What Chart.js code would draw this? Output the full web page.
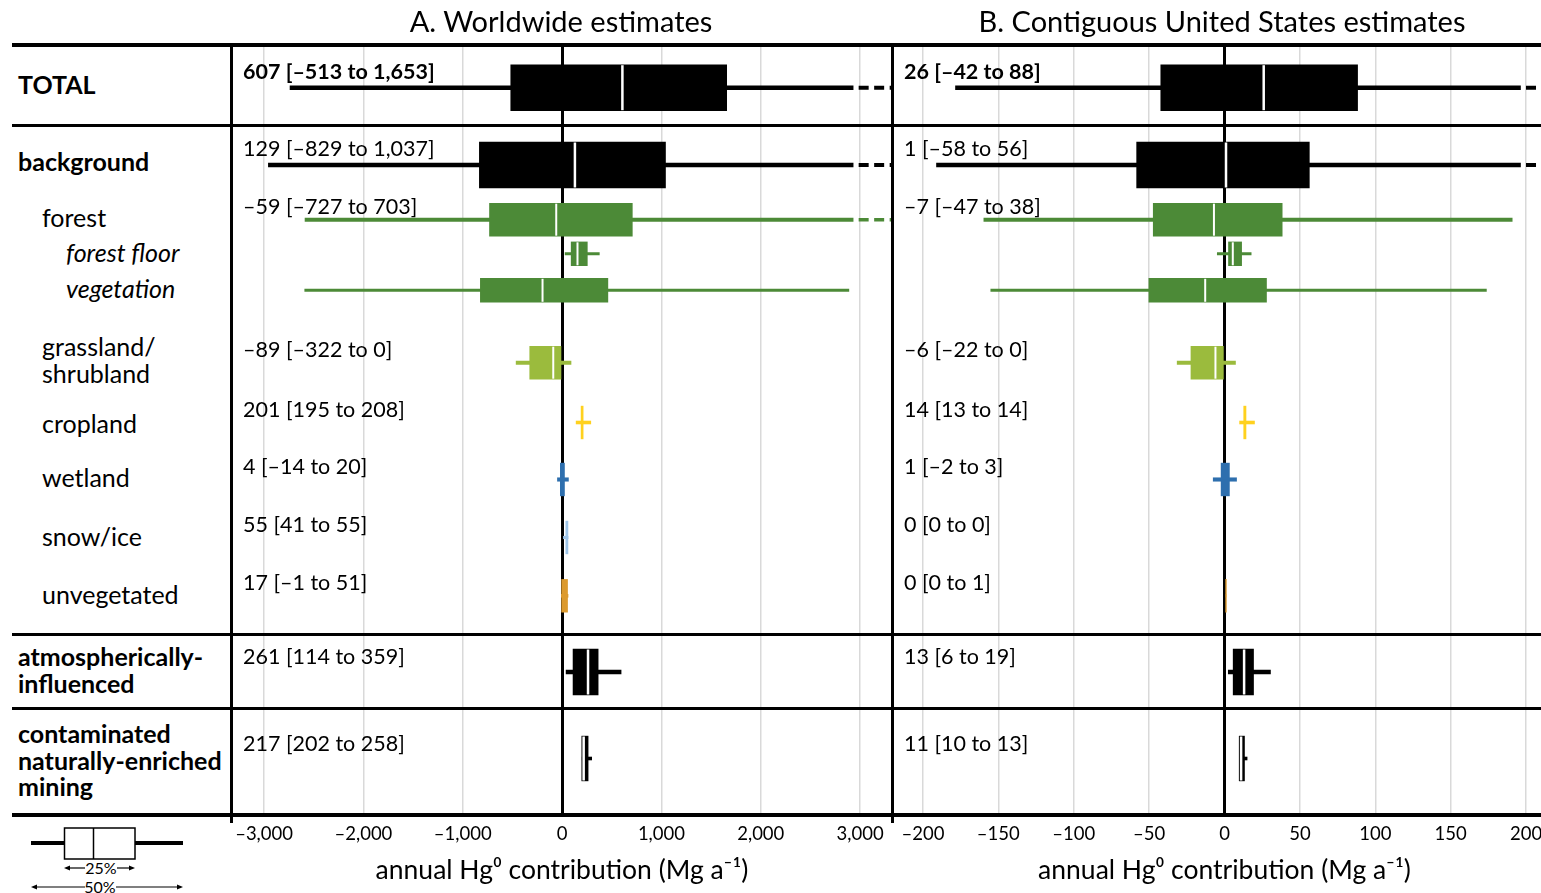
<!DOCTYPE html>
<html>
<head>
<meta charset="utf-8">
<title>Annual Hg0 contribution by land cover</title>
<script src="https://cdn.jsdelivr.net/npm/chart.js@4.4.1/dist/chart.umd.min.js"></script>
<style>
  html, body { margin: 0; padding: 0; background: #fff; overflow: hidden; }
  #fig { position: relative; width: 1541px; height: 893px; overflow: hidden;
         font-family: Lato, "Open Sans", sans-serif; color: #000; }
  .panel { position: absolute; top: 0; height: 893px; }
  #panelA { left: 232px; width: 660px; }
  #panelB { left: 892px; width: 665px; }
  .hd { position: absolute; top: 4px; font-size: 29px; line-height: 34px; white-space: nowrap; transform: translateX(-50%); }
  .rl { position: absolute; font-size: 25px; line-height: 27px; white-space: nowrap; }
  .b { font-weight: bold; }
  .i { font-style: italic; }
  .hl { position: absolute; background: #000; }
  .vl { position: absolute; background: #000; }
  #key { position: absolute; left: 0; top: 818px; }
</style>
</head>
<body>
<div id="fig">
  <div class="panel" id="panelA"><canvas id="chartA" width="660" height="893"></canvas></div>
  <div class="panel" id="panelB"><canvas id="chartB" width="665" height="893"></canvas></div>

  <div class="hd" style="left:561px">A. Worldwide estimates</div>
  <div class="hd" style="left:1222px">B. Contiguous United States estimates</div>

  <!-- table rules -->
  <div class="hl" style="left:12px;top:43px;width:1529px;height:4px"></div>
  <div class="hl" style="left:12px;top:124px;width:1529px;height:3px"></div>
  <div class="hl" style="left:12px;top:633px;width:1529px;height:3px"></div>
  <div class="hl" style="left:12px;top:707px;width:1529px;height:3px"></div>
  <div class="hl" style="left:12px;top:813px;width:1529px;height:4px"></div>
  <div class="vl" style="left:230px;top:43px;width:3px;height:780px"></div>
  <div class="vl" style="left:891px;top:43px;width:3px;height:780px"></div>

  <!-- row names -->
  <div class="rl b" style="left:18px;top:71px">TOTAL</div>
  <div class="rl b" style="left:18px;top:148px">background</div>
  <div class="rl" style="left:42px;top:204px">forest</div>
  <div class="rl i" style="left:66px;top:239px">forest floor</div>
  <div class="rl i" style="left:66px;top:275px">vegetation</div>
  <div class="rl" style="left:42px;top:333px">grassland/<br>shrubland</div>
  <div class="rl" style="left:42px;top:410px">cropland</div>
  <div class="rl" style="left:42px;top:464px">wetland</div>
  <div class="rl" style="left:42px;top:523px">snow/ice</div>
  <div class="rl" style="left:42px;top:581px">unvegetated</div>
  <div class="rl b" style="left:18px;top:643px">atmospherically-<br>influenced</div>
  <div class="rl b" style="left:18px;top:720px;line-height:26.5px">contaminated<br>naturally-enriched<br>mining</div>

  <!-- box key -->
  <svg id="key" width="200" height="75" xmlns="http://www.w3.org/2000/svg">
    <line x1="31" y1="25" x2="64" y2="25" stroke="#000" stroke-width="4"/>
    <line x1="135" y1="25" x2="183" y2="25" stroke="#000" stroke-width="4"/>
    <rect x="64.5" y="10" width="70.5" height="31" fill="#fff" stroke="#000" stroke-width="1.5"/>
    <line x1="93.5" y1="10" x2="93.5" y2="41" stroke="#000" stroke-width="1.5"/>
    <line x1="68" y1="50" x2="85" y2="50" stroke="#000" stroke-width="1.2"/>
    <polygon points="64,50 70,47.5 70,52.5" fill="#000"/>
    <line x1="117" y1="50" x2="131" y2="50" stroke="#000" stroke-width="1.2"/>
    <polygon points="135,50 129,47.5 129,52.5" fill="#000"/>
    <text x="101" y="55.5" font-family="Lato" font-size="16" text-anchor="middle">25%</text>
    <line x1="35" y1="69" x2="85" y2="69" stroke="#000" stroke-width="1.2"/>
    <polygon points="31,69 37,66.5 37,71.5" fill="#000"/>
    <line x1="116" y1="69" x2="179" y2="69" stroke="#000" stroke-width="1.2"/>
    <polygon points="183,69 177,66.5 177,71.5" fill="#000"/>
    <text x="100" y="74.5" font-family="Lato" font-size="16" text-anchor="middle">50%</text>
  </svg>
</div>

<script>
// ---- categories, top to bottom ----
const ROWS = ['TOTAL', 'background', 'forest', 'forest floor', 'vegetation',
  'grassland/shrubland', 'cropland', 'wetland', 'snow/ice', 'unvegetated',
  'atmospherically-influenced', 'contaminated, naturally-enriched, mining'];

// ---- worldwide estimates, Mg per year ----
const WORLD_MEDIAN = [607, 129, -59, 155, -197, -89, 201, 4, 55, 17, 261, 217];
const WORLD_Q1     = [-513, -829, -727, 95, -819, -322, 195, -14, 41, -1, 114, 202];
const WORLD_Q3     = [1653, 1037, 703, 250, 457, 0, 208, 20, 55, 51, 359, 258];
const WORLD_LOW    = [-2739, -2957, -2588, 30, -2591, -463, 141, -47, 13, -8, 40, 202];
const WORLD_HIGH   = [2930, 2930, 2930, 375, 2887, 90, 289, 64, 60, 60, 594, 298];
// upper whisker keeps going past the end of the axis
const WORLD_BEYOND = [true, true, true, false, false, false, false, false, false, false, false, false];

// ---- contiguous US estimates, Mg per year ----
const US_MEDIAN = [26, 1, -7, 5.5, -12.8, -6, 14, 1, 0, 0, 13, 11];
const US_Q1     = [-42, -58, -47, 2.9, -49.9, -22, 13, -2, 0, 0, 6, 10];
const US_Q3     = [88, 56, 38, 11.1, 27.6, 0, 14, 3, 0, 1, 19, 13];
const US_LOW    = [-178.4, -191, -159.6, -4.8, -155, -31.4, 10, -7.5, 0, 0, 2.5, 10];
const US_HIGH   = [196.3, 196.3, 190.8, 17.7, 173.7, 7.3, 19.9, 8, 0, 1, 30.5, 15];
const US_BEYOND = [true, true, false, false, false, false, false, false, false, false, false, false];

// rows that carry a "median [q1 to q3]" annotation
const LABELLED = [true, true, true, false, false, true, true, true, true, true, true, true];

// ---- axis ticks ----
const WORLD_TICKS = [-3000, -2000, -1000, 0, 1000, 2000, 3000];
const US_TICKS = [-200, -150, -100, -50, 0, 50, 100, 150, 200];
const WORLD_RANGE = [-3323, 3321];
const US_RANGE = [-220.5, 220.5];

// ---- layout & style per row ----
const ROW_Y      = [4.27, 12.0, 17.47, 20.88, 24.53, 31.77, 37.75, 43.45, 49.25, 55.08, 62.7, 71.35]; // y units of 10 px
const ROW_COLOR  = ['#000', '#000', '#4c8a37', '#4c8a37', '#4c8a37', '#9bbb3d', '#ffd11e', '#2e6fae',
                    '#9dc4e8', '#dc9a2e', '#000', '#000'];
const BOX_H      = [45, 45, 32, 23, 23, 32, 32, 32, 32, 32, 45, 44];
const WHISKER_W  = [4, 4, 3.5, 2.5, 2.5, 3.5, 3, 3.5, 2.5, 3, 4, 3];
const SHOW_MEDIAN = [true, true, true, true, true, true, false, false, false, false, true, true];
const BOLD_LABEL = [true, false, false, false, false, false, false, false, false, false, false, false];
const LABEL_DY   = [-15.5, -16, -12.7, 0, 0, -12.7, -12.5, -12.5, -12.5, -12.8, -15, -14.5];
const FONT = 'Lato, "Open Sans", sans-serif';

function fmt(v) {
  const s = Math.abs(v).toLocaleString('en-US');
  return v < 0 ? '\u2013' + s : s;
}

function groupRows(values, keep) {
  const groups = new Map();
  values.forEach((v, i) => {
    if (keep && !keep(i)) return;
    if (!groups.has(v)) groups.set(v, []);
    groups.get(v).push(i);
  });
  return groups;
}

// writes "median [q1 to q3]" above each annotated box
const rowText = {
  id: 'rowText',
  afterDatasetsDraw(chart, args, opts) {
    const { ctx, chartArea, scales: { y } } = chart;
    ctx.save();
    ctx.fillStyle = '#000';
    ctx.textAlign = 'left';
    ctx.textBaseline = 'middle';
    opts.median.forEach((m, i) => {
      if (!LABELLED[i]) return;
      ctx.font = (BOLD_LABEL[i] ? 'bold ' : '') + '21.5px ' + FONT;
      const txt = fmt(m) + ' [' + fmt(opts.q1[i]) + ' to ' + fmt(opts.q3[i]) + ']';
      ctx.fillText(txt, chartArea.left + opts.dx, y.getPixelForValue(ROW_Y[i]) + LABEL_DY[i]);
    });
    ctx.restore();
  }
};

function buildPanel(canvasId, s) {
  const datasets = [];

  // whiskers (thin floating bars from low to high)
  groupRows(WHISKER_W, i => s.high[i] > s.low[i]).forEach((idx, w) => {
    datasets.push({
      type: 'bar', stack: 'row', order: 3, barThickness: w, borderWidth: 0, inflateAmount: 0.3,
      data: idx.map(i => ({ x: [s.low[i], s.high[i]], y: ROW_Y[i] })),
      backgroundColor: idx.map(i => ROW_COLOR[i])
    });
  });

  // boxes (floating bars from q1 to q3)
  groupRows(BOX_H, i => s.q3[i] > s.q1[i]).forEach((idx, h) => {
    datasets.push({
      type: 'bar', stack: 'row', order: 2, barThickness: h, borderWidth: 0, inflateAmount: 0.7,
      data: idx.map(i => ({ x: [s.q1[i], s.q3[i]], y: ROW_Y[i] })),
      backgroundColor: idx.map(i => ROW_COLOR[i])
    });
  });

  // medians: white cut across the box
  const mIdx = ROWS.map((r, i) => i).filter(i => SHOW_MEDIAN[i]);
  datasets.push({
    type: 'scatter', indexAxis: 'x', order: 0,
    data: mIdx.map(i => ({ x: s.median[i], y: ROW_Y[i] })),
    pointStyle: 'line', rotation: 90,
    pointRadius: mIdx.map(i => BOX_H[i] / 2),
    pointBorderWidth: mIdx.map(i => BOX_H[i] >= 44 ? 2.5 : 2),
    pointBorderColor: '#fff', pointBackgroundColor: '#fff',
    pointHoverRadius: 0
  });

  // dashed continuation of whiskers running off the axis
  ROWS.forEach((r, i) => {
    if (!s.beyond[i]) return;
    datasets.push({
      type: 'scatter', indexAxis: 'x', order: 3, showLine: true,
      data: [{ x: s.high[i], y: ROW_Y[i] }, { x: s.range[1], y: ROW_Y[i] }],
      borderColor: ROW_COLOR[i], borderWidth: WHISKER_W[i],
      borderDash: [10, 5.5], borderDashOffset: 10,
      pointRadius: 0, pointHoverRadius: 0
    });
  });

  return new Chart(document.getElementById(canvasId), {
    type: 'bar',
    data: { datasets },
    plugins: [rowText],
    options: {
      indexAxis: 'y',
      responsive: false,
      animation: false,
      events: [],
      layout: { autoPadding: false, padding: { top: 45, left: 0, right: 0, bottom: 0 } },
      plugins: {
        legend: { display: false },
        tooltip: { enabled: false },
        rowText: { median: s.median, q1: s.q1, q3: s.q3, dx: s.dx }
      },
      scales: {
        y: {
          type: 'linear', display: false, reverse: true, min: 0, max: 77,
          offset: false, grid: { offset: false }
        },
        x: {
          type: 'linear', position: 'bottom', min: s.range[0], max: s.range[1],
          stacked: false, offset: false,
          afterBuildTicks: sc => { sc.ticks = s.ticks.map(v => ({ value: v })); },
          afterFit: sc => { sc.height = 78; sc.paddingLeft = 0; sc.paddingRight = 0; },
          border: { display: false },
          grid: {
            drawTicks: false,
            color: c => (c.tick && c.tick.value === 0) ? '#000' : '#d9d9d9',
            lineWidth: c => (c.tick && c.tick.value === 0) ? 3 : 1.5
          },
          ticks: {
            autoSkip: false, maxRotation: 0, padding: 8, color: '#000',
            font: { family: FONT, size: 18.5 },
            callback: v => fmt(v)
          },
          title: {
            display: true, text: 'annual Hg\u2070 contribution (Mg a\u207B\u00B9)', color: '#000',
            font: { family: FONT, size: 26.5 }, padding: { top: 0, bottom: 7 }
          }
        }
      }
    }
  });
}

buildPanel('chartA', {
  median: WORLD_MEDIAN, q1: WORLD_Q1, q3: WORLD_Q3, low: WORLD_LOW, high: WORLD_HIGH,
  beyond: WORLD_BEYOND, ticks: WORLD_TICKS, range: WORLD_RANGE, dx: 11
});
buildPanel('chartB', {
  median: US_MEDIAN, q1: US_Q1, q3: US_Q3, low: US_LOW, high: US_HIGH,
  beyond: US_BEYOND, ticks: US_TICKS, range: US_RANGE, dx: 12
});
</script>
</body>
</html>
